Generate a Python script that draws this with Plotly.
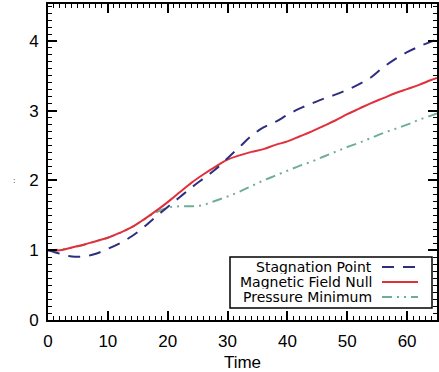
import plotly.graph_objects as go

time = [0, 2, 4, 6, 8, 10, 12, 14, 16, 18, 20, 22, 24, 26, 28, 30, 32, 34, 36, 38,
        40, 42, 44, 46, 48, 50, 52, 54, 56, 58, 60, 62, 64, 65]
stagnation = [1.00, 0.95, 0.91, 0.91, 0.95, 1.02, 1.10, 1.20, 1.33, 1.48, 1.62, 1.76,
              1.90, 2.03, 2.16, 2.32, 2.48, 2.64, 2.76, 2.84, 2.94, 3.03, 3.10, 3.17,
              3.23, 3.30, 3.38, 3.48, 3.62, 3.74, 3.84, 3.92, 3.99, 4.02]
null_point = [1.00, 1.00, 1.04, 1.08, 1.13, 1.18, 1.25, 1.33, 1.44, 1.56, 1.69, 1.83,
              1.97, 2.09, 2.20, 2.30, 2.36, 2.41, 2.45, 2.51, 2.56, 2.63, 2.70, 2.78,
              2.86, 2.95, 3.03, 3.11, 3.18, 3.25, 3.31, 3.37, 3.44, 3.47]
pressure_min = [1.00, 1.01, 1.04, 1.08, 1.13, 1.18, 1.25, 1.33, 1.44, 1.54, 1.61, 1.63,
                1.63, 1.65, 1.71, 1.77, 1.84, 1.92, 2.00, 2.07, 2.14, 2.21, 2.27, 2.34,
                2.41, 2.48, 2.54, 2.61, 2.68, 2.74, 2.80, 2.87, 2.93, 2.96]
series_names = ["Stagnation Point", "Magnetic Field Null", "Pressure Minimum"]
x_ticks = [0, 10, 20, 30, 40, 50, 60]
y_ticks = [0, 1, 2, 3, 4]

colors = ["#2e2e80", "#e0303a", "#6fae96"]
dashes = ["12px,9px", "solid", "10px,5px,2px,5px,2px,5px"]
series = [stagnation, null_point, pressure_min]
X_RANGE = [0, 65]
Y_RANGE = [0, 4.53]

fig = go.Figure()
for i in [2, 1, 0]:
    fig.add_trace(go.Scatter(x=time, y=series[i], mode="lines", name=series_names[i],
                             line=dict(color=colors[i], width=2, dash=dashes[i], shape="spline"),
                             showlegend=False))
# dummy trace to activate mirrored top/right axes
fig.add_trace(go.Scatter(x=[None], y=[None], xaxis="x2", yaxis="y2", showlegend=False,
                         hoverinfo="skip"))

font = "Liberation Sans"
tick_common = dict(ticks="inside", ticklen=9, tickwidth=1.5, tickcolor="black",
                   showgrid=False, zeroline=False, automargin=False,
                   tickfont=dict(family=font, size=17, color="black"))

fig.update_layout(
    xaxis=dict(range=X_RANGE, tickvals=x_ticks, ticktext=[str(v) for v in x_ticks],
               showline=True, linecolor="black", linewidth=2, ticklabelstandoff=5,
               minor=dict(dtick=1, ticks="inside", ticklen=4, tickcolor="black", tickwidth=1),
               title=dict(text="Time", font=dict(family=font, size=17, color="black"), standoff=8),
               **tick_common),
    yaxis=dict(range=Y_RANGE, tickvals=y_ticks, ticktext=[str(v) for v in y_ticks],
               showline=True, linecolor="black", linewidth=2, ticklabelstandoff=4,
               minor=dict(dtick=0.1, ticks="inside", ticklen=4, tickcolor="black", tickwidth=1),
               **tick_common),
    xaxis2=dict(range=X_RANGE, tickvals=x_ticks, overlaying="x", side="top", anchor="y",
                showticklabels=False, showline=True, linecolor="black", linewidth=2,
                minor=dict(dtick=1, ticks="inside", ticklen=4, tickcolor="black", tickwidth=1),
                **tick_common),
    yaxis2=dict(range=Y_RANGE, tickvals=y_ticks, overlaying="y", side="right", anchor="x",
                showticklabels=False, showline=True, linecolor="black", linewidth=2,
                minor=dict(dtick=0.1, ticks="inside", ticklen=4, tickcolor="black", tickwidth=1),
                **tick_common),
)

# y-axis label (tiny glyph in the reference)
fig.add_annotation(x=-0.095, y=0.44, xref="paper", yref="paper", text="꞉", showarrow=False,
                   font=dict(family=font, size=9, color="#555"))

def px_x(p):
    return (p - 48) / 389.0

def px_y(p):
    return (320 - p) / 316.0

fig.add_shape(type="rect", xref="paper", yref="paper",
              x0=px_x(230), x1=px_x(432), y0=px_y(308), y1=px_y(257),
              line=dict(color="black", width=1.5), fillcolor="white", layer="above")
ys = [267, 282, 297]
for i in range(3):
    fig.add_annotation(x=px_x(373), y=px_y(ys[i]), xref="paper", yref="paper",
                       text=series_names[i], showarrow=False, xanchor="right", yanchor="middle",
                       height=14, valign="middle", borderpad=0,
                       font=dict(family="DejaVu Sans", size=14, color="black"))
    fig.add_shape(type="line", xref="paper", yref="paper",
                  x0=px_x(382), x1=px_x(418), y0=px_y(ys[i]), y1=px_y(ys[i]),
                  line=dict(color=colors[i], width=2, dash=dashes[i]), layer="above")

fig.update_layout(width=439, height=372, margin=dict(l=48, r=2, t=4, b=52),
                  plot_bgcolor="white", paper_bgcolor="white", showlegend=False)

fig.write_html("out.html", config={"displayModeBar": False},
               post_script="document.body.style.margin='0';document.body.style.padding='0';")
